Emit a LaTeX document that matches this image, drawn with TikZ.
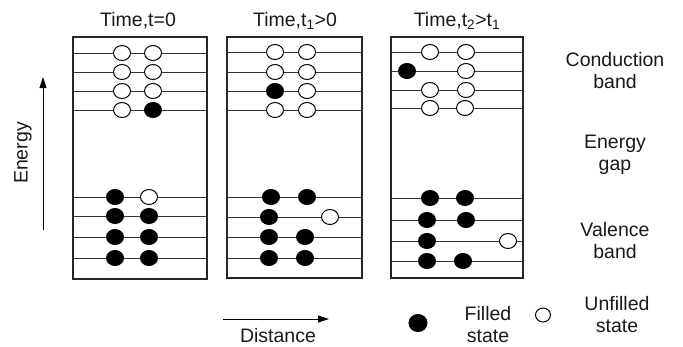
\documentclass[tikz,border=0pt]{standalone}
\usepackage{fontspec}
\setmainfont{Liberation Sans}
\usetikzlibrary{shapes.geometric,arrows.meta}
\begin{document}
\begin{tikzpicture}[x=1pt,y=-1pt,
  panel/.style={draw=black!85, line width=1.3pt},
  lvl/.style={draw=black!80, line width=1pt},
  st/.style={ellipse, draw=black, line width=1pt, minimum width=17pt, minimum height=15pt, inner sep=0pt},
  full/.style={st, fill=black},
  hollow/.style={st, fill=white},
  lbl/.style={font=\fontsize{19.5}{22}\selectfont, align=center, inner sep=0pt, text=black!90},
  arr/.style={line width=1pt, -{Triangle[length=11pt,width=7pt]}}]
\useasboundingbox (0,0) rectangle (683,346);

% ---------- panel 1 ----------
\draw[panel] (73,37) rectangle (207,279);
\foreach \y in {53,72,91,110,197,216,237,258} \draw[lvl] (73,\y) -- (207,\y);
\node[hollow] (a11) at (122,53) {}; \node[hollow] (a12) at (153,53) {};
\node[hollow] (a21) at (122,72) {}; \node[hollow] (a22) at (153,72) {};
\node[hollow] (a31) at (122,91) {}; \node[hollow] (a32) at (153,91) {};
\node[hollow] (a41) at (122,110) {}; \node[full] (a42) at (153,110) {};
\node[full] (a51) at (115,197) {}; \node[hollow] (a52) at (149,197) {};
\node[full] (a61) at (115,216) {}; \node[full] (a62) at (149,216) {};
\node[full] (a71) at (115,237) {}; \node[full] (a72) at (149,237) {};
\node[full] (a81) at (115,258) {}; \node[full] (a82) at (149,258) {};
\node[lbl] (t1) at (138,21) {Time,t=0};

% ---------- panel 2 ----------
\draw[panel] (227,37) rectangle (362,278);
\foreach \y in {52,72,91,110,197,217,237,258} \draw[lvl] (227,\y) -- (362,\y);
\node[hollow] (b11) at (275,52) {}; \node[hollow] (b12) at (307,52) {};
\node[hollow] (b21) at (275,72) {}; \node[hollow] (b22) at (307,72) {};
\node[full] (b31) at (275,91) {}; \node[hollow] (b32) at (307,91) {};
\node[hollow] (b41) at (275,110) {}; \node[hollow] (b42) at (307,110) {};
\node[full] (b51) at (271,197) {}; \node[full] (b52) at (307,197) {};
\node[full] (b61) at (269,217) {}; \node[hollow] (b62) at (330,217) {};
\node[full] (b71) at (269,237) {}; \node[full] (b72) at (305,237) {};
\node[full] (b81) at (269,258) {}; \node[full] (b82) at (305,258) {};
\node[lbl] (t2) at (295,21) {Time,t\textsubscript{1}>0};

% ---------- panel 3 ----------
\draw[panel] (391,37) rectangle (523,278);
\foreach \y in {52,71,90,108,198,220,241,261} \draw[lvl] (391,\y) -- (523,\y);
\node[hollow] (c11) at (430,52) {}; \node[hollow] (c12) at (466,52) {};
\node[full] (c21) at (407,71) {}; \node[hollow] (c22) at (466,71) {};
\node[hollow] (c31) at (430,90) {}; \node[hollow] (c32) at (466,90) {};
\node[hollow] (c41) at (430,108) {}; \node[hollow] (c42) at (465,108) {};
\node[full] (c51) at (430,198) {}; \node[full] (c52) at (465,198) {};
\node[full] (c61) at (427,220) {}; \node[full] (c62) at (466,220) {};
\node[full] (c71) at (427,241) {}; \node[hollow] (c72) at (508,241) {};
\node[full] (c81) at (427,261) {}; \node[full] (c82) at (463,261) {};
\node[lbl] (t3) at (457,21) {Time,t\textsubscript{2}>t\textsubscript{1}};

% ---------- right labels ----------
\node[lbl] (cb) at (615,71) {Conduction\\band};
\node[lbl] (eg) at (615,155) {Energy\\gap};
\node[lbl] (vb) at (615,241) {Valence\\band};

% ---------- energy axis ----------
\coordinate (e0) at (43,230);
\coordinate (e1) at (43,77);
\draw[arr] (e0) -- (e1);
\node[lbl, rotate=90] (en) at (23,153) {Energy};

% ---------- distance axis ----------
\coordinate (d0) at (223,319);
\coordinate (d1) at (329,319);
\draw[arr] (d0) -- (d1);
\node[lbl] (dl) at (278,335.5) {Distance};

% ---------- legend ----------
\node[full, minimum width=18pt, minimum height=17pt] (lf) at (418,323) {};
\node[lbl] (lft) at (488,325) {Filled\\state};
\node[hollow, minimum width=15pt, minimum height=14pt] (lu) at (543,315) {};
\node[lbl] (lut) at (617,315) {Unfilled\\state};
\end{tikzpicture}
\end{document}
